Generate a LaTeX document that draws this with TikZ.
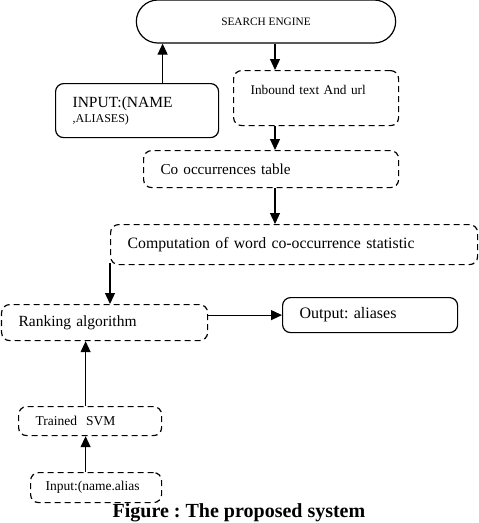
\documentclass[tikz,border=0pt]{standalone}
\usepackage{fontspec}
\setmainfont{Liberation Serif}
\usetikzlibrary{arrows.meta,positioning,shapes.misc,calc}
\newcommand{\sz}[1]{\fontsize{#1}{1.25\dimexpr#1pt\relax}\selectfont}
\frenchspacing
\tikzset{
  box/.style = {draw, line width = 1.2pt, rounded corners = 8pt, anchor = north west,
                align = left, inner xsep = 17pt, inner ysep = 0pt},
  dbox/.style = {box, dash pattern = on 6pt off 4pt},
}

\begin{document}
\begin{tikzpicture}[x = 1pt, y = -1pt, >={Triangle[length=11pt, width=10pt]}]
    \useasboundingbox (0,0) rectangle (479,523);
    \node[draw, line width = 1.2pt, rounded rectangle, minimum width = 266pt, minimum height = 43pt,
          font = \sz{11.3}] (se) at (266,21.5) {SEARCH ENGINE};
    \node[box, text width = 129pt, minimum height = 54pt] (inp) at (55,83)
        {\sz{15.5}INPUT:(NAME\\[3pt]\sz{12},ALIASES)};
    \node[dbox, text width = 131pt, text height = 23.5pt, text depth = 31.5pt, font = \sz{13.3}] (ib) at (233,70)
        {Inbound text And url};
    \node[dbox, text width = 221pt, minimum height = 37pt, font = \sz{15.2}] (cooc) at (143,150)
        {Co occurrences table};
    \node[dbox, text width = 333pt, minimum height = 40pt, font = \sz{15.8}] (comp) at (110,224)
        {Computation of word co-occurrence statistic};
    \node[dbox, text width = 172pt, minimum height = 36pt, font = \sz{15.5}] (rank) at (1,304)
        {Ranking algorithm};
    \node[box, text width = 141pt, minimum height = 35pt, font = \sz{16}] (out) at (282,297)
        {Output: aliases};
    \node[dbox, text width = 109pt, minimum height = 29pt, font = \sz{13.5}] (svm) at (18,406)
        {Trained~ SVM};
    \node[dbox, inner xsep = 15pt, text width = 101pt, minimum height = 30pt, font = \sz{13.5}] (inp2) at (30,472)
        {Input:(name.alias};
    \draw[->, line width = 1.2pt] ([xshift = 25.5pt]inp.north) -- ([xshift = 25.5pt]inp.north |- se.south);
    \draw[->, line width = 1.2pt] ([xshift = 9pt]se.south) -- ([xshift = 9pt]se.south |- ib.north);
    \draw[->, line width = 1.2pt] ([xshift = 9pt]se.south |- ib.south) -- ([xshift = 9pt]se.south |- cooc.north);
    \draw[->, line width = 1.2pt] ([xshift = 9pt]se.south |- cooc.south) -- ([xshift = 9pt]se.south |- comp.north);
    \draw[->, line width = 1.2pt] ([yshift = 2pt]comp.south west) -- (comp.south west |- rank.north);
    \draw[->, line width = 1.2pt] (out.west -| rank.east) -- (out.west);
    \draw[->, line width = 1.2pt] ([xshift = -4.5pt]svm.north) -- ([xshift = -4.5pt]svm.north |- rank.south);
    \draw[->, line width = 1.2pt] ([xshift = -4.5pt]svm.north |- inp2.north) -- ([xshift = -4.5pt]svm.south);
        % Caption
    \node[font = \sz{20}\bfseries] (cap) at (239,513) {Figure : The proposed system};
\end{tikzpicture}
\end{document}
